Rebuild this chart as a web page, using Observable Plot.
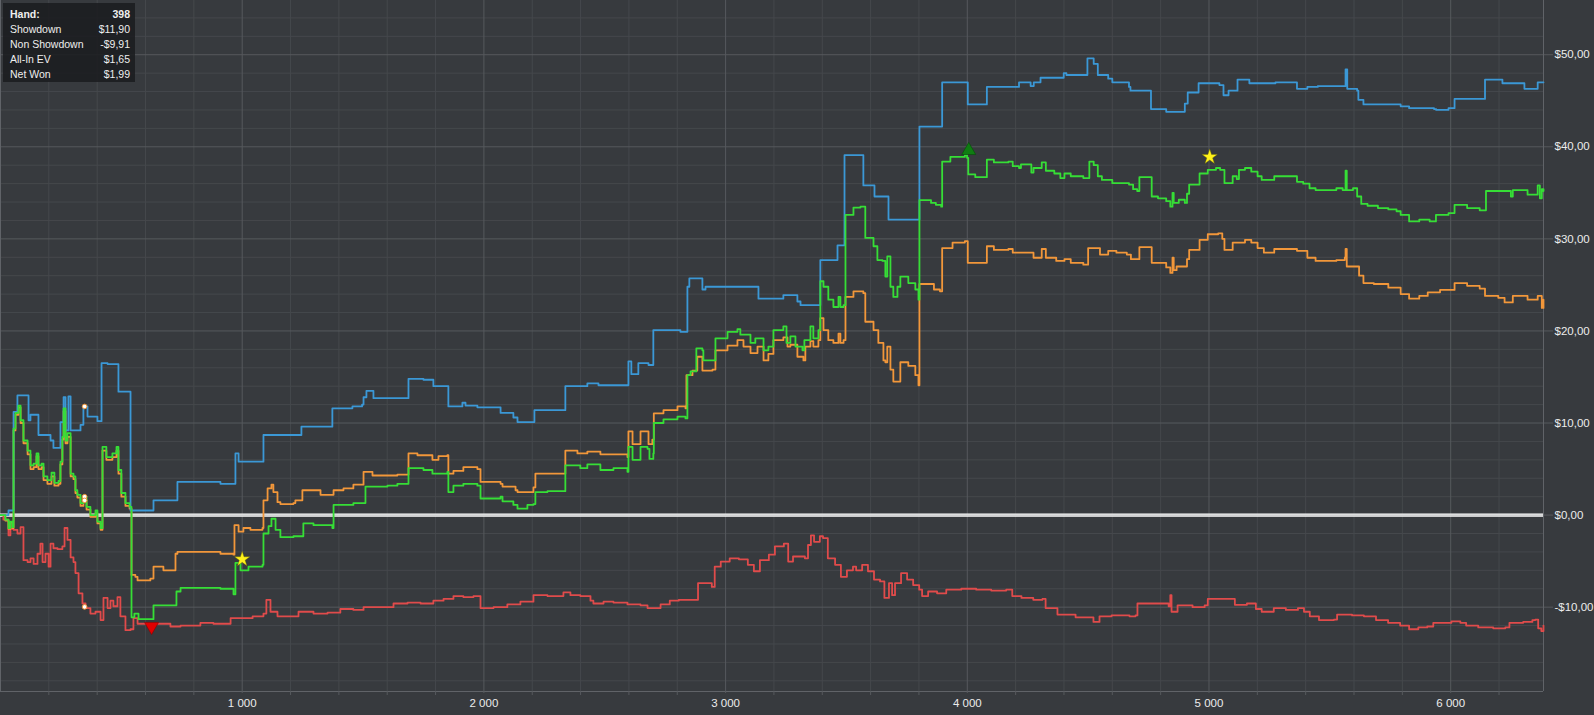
<!DOCTYPE html>
<html><head><meta charset="utf-8">
<script src="https://cdn.jsdelivr.net/npm/d3@7"></script>
<script src="https://cdn.jsdelivr.net/npm/@observablehq/plot@0.6"></script>
<style>
html,body{margin:0;padding:0;background:#373a3e;overflow:hidden}
#wrap{position:relative;width:1594px;height:715px}
#legend{position:absolute;left:3px;top:3px;width:132px;height:79px;background:rgba(27,29,32,0.88);font:10.5px "Liberation Sans",sans-serif;color:#eeeeee;box-sizing:border-box;padding:4px 5px 0 7px}
#legend .row{display:flex;justify-content:space-between;height:15px;line-height:15px;white-space:nowrap}
#legend .head{font-weight:bold}
</style></head>
<body><div id="wrap"><div id="chart"></div><div id="legend"></div></div>
<script>
// ---- data: [hand, dollars] breakpoints ----
const showdown = [[0,0],[33,0.5],[54,11.2],[70,13.0],[116,10.3],[124,10.9],[157,8.7],[207,8.1],[219,7.3],[248,10.1],[261,12.8],[269,9.2],[281,12.9],[290,9.2],[331,9.8],[343,11.8],[360,10.7],[401,10.2],[418,16.5],[443,16.4],[488,13.4],[538,0.5],[633,1.6],[732,3.6],[910,3.4],[972,6.7],[985,5.8],[1088,8.7],[1245,9.6],[1373,11.6],[1456,11.8],[1496,12.0],[1502,12.8],[1514,13.5],[1543,12.7],[1688,14.8],[1750,14.7],[1791,14.0],[1853,11.8],[1911,12.2],[1924,11.9],[1973,11.7],[2069,11.1],[2122,10.6],[2139,10.1],[2209,11.4],[2337,14.0],[2428,14.3],[2474,14.1],[2598,16.7],[2610,15.3],[2639,16.5],[2681,16.3],[2701,20.1],[2813,19.9],[2842,24.8],[2850,25.7],[2904,24.5],[2917,24.8],[3136,23.5],[3239,23.9],[3297,23.2],[3310,22.8],[3392,27.7],[3463,29.3],[3492,39.1],[3570,35.8],[3616,34.6],[3674,32.1],[3802,42.2],[3896,47.0],[4002,44.6],[4081,46.5],[4214,47.0],[4262,46.6],[4275,47.0],[4303,47.5],[4399,48.0],[4410,47.8],[4497,49.6],[4523,49.0],[4540,47.8],[4583,47.4],[4600,47.0],[4669,46.5],[4675,46.1],[4760,44.1],[4823,43.8],[4900,44.7],[4912,45.9],[4957,46.9],[5043,46.7],[5060,45.6],[5081,46.1],[5118,47.3],[5167,46.9],[5275,47.0],[5364,46.3],[5407,46.5],[5450,46.6],[5565,48.4],[5572,46.3],[5613,46.1],[5618,45.1],[5639,44.6],[5793,44.4],[5828,44.2],[5931,44.1],[5940,44.0],[5991,44.2],[6016,45.2],[6142,47.3],[6214,46.9],[6305,46.3],[6360,47.0],[6384,47.0]];

const netWon = [[0,0],[20,-0.5],[33,-1.4],[41,-0.7],[50,-1.3],[54,9.4],[62,11.1],[74,11.9],[83,10.3],[95,8.1],[112,7.0],[124,5.4],[137,5.6],[149,6.7],[157,5.4],[170,5.6],[178,4.2],[194,3.8],[211,4.6],[223,3.5],[240,3.7],[248,5.8],[256,8.5],[261,11.6],[269,8.1],[277,8.9],[290,4.5],[302,4.2],[310,2.7],[318,2.2],[331,1.3],[343,2.0],[356,0.9],[372,0.0],[393,0.5],[401,-0.7],[414,-1.4],[422,7.4],[438,6.3],[463,6.7],[480,7.4],[488,4.9],[500,2.4],[517,1.3],[534,0.9],[542,-11.1],[554,-10.7],[571,-11.3],[633,-9.8],[728,-8.3],[745,-7.9],[910,-8.0],[964,-8.6],[972,-5.2],[993,-6.0],[1026,-5.6],[1084,-5.4],[1088,-2.0],[1109,-1.2],[1121,-0.4],[1138,-1.6],[1158,-2.4],[1212,-2.3],[1253,-0.9],[1295,-1.1],[1373,-1.4],[1378,1.1],[1460,1.3],[1510,3.1],[1601,3.2],[1642,3.4],[1688,5.1],[1750,4.9],[1787,4.5],[1849,4.7],[1853,2.5],[1874,3.2],[1915,3.4],[1973,3.2],[1986,1.8],[2069,2.0],[2077,1.5],[2122,1.1],[2139,0.7],[2180,1.1],[2205,1.2],[2213,2.5],[2263,2.6],[2329,2.6],[2337,5.4],[2399,5.1],[2428,5.5],[2482,4.9],[2536,5.1],[2594,4.7],[2598,7.4],[2615,6.0],[2639,6.0],[2648,7.4],[2677,7.2],[2685,6.1],[2701,6.7],[2703,10.0],[2743,10.4],[2801,10.7],[2834,10.5],[2842,15.2],[2855,15.6],[2879,18.1],[2904,17.9],[2908,16.8],[2950,16.8],[2958,19.2],[3008,19.9],[3049,20.2],[3061,19.6],[3103,18.7],[3123,19.2],[3157,17.9],[3177,18.3],[3198,20.1],[3239,20.5],[3252,18.7],[3268,19.4],[3289,18.3],[3318,17.9],[3326,19.0],[3351,20.5],[3363,19.2],[3384,20.1],[3392,25.4],[3405,24.8],[3425,23.4],[3446,22.6],[3467,23.7],[3475,22.6],[3488,22.8],[3496,32.6],[3529,33.4],[3558,33.5],[3570,33.5],[3578,30.1],[3612,29.2],[3628,27.7],[3649,27.6],[3661,25.9],[3669,28.1],[3682,24.8],[3694,23.7],[3711,24.8],[3723,25.9],[3756,25.2],[3785,24.5],[3798,23.4],[3802,34.2],[3850,33.9],[3870,33.7],[3892,33.5],[3896,38.4],[3930,38.9],[3990,39.1],[3999,38.8],[4004,37.0],[4033,36.7],[4081,38.6],[4110,38.3],[4170,38.4],[4188,37.9],[4214,37.7],[4222,38.1],[4265,37.2],[4274,37.7],[4308,38.3],[4325,37.4],[4360,37.1],[4385,36.6],[4402,37.1],[4428,36.8],[4480,36.6],[4505,38.4],[4523,38.0],[4540,36.8],[4557,36.4],[4600,36.05],[4669,35.9],[4686,35.4],[4703,35.2],[4712,36.7],[4763,34.6],[4789,34.4],[4823,34.1],[4840,33.5],[4849,35.0],[4854,33.9],[4875,34.25],[4900,33.9],[4909,34.9],[4918,35.9],[4961,37.1],[4995,37.5],[5029,37.7],[5046,37.5],[5064,36.05],[5098,36.8],[5115,36.5],[5124,37.5],[5149,37.7],[5175,37.3],[5201,36.8],[5218,36.4],[5270,36.8],[5364,36.2],[5390,36.0],[5416,35.5],[5441,35.3],[5527,35.5],[5553,35.3],[5565,37.4],[5570,35.3],[5596,35.5],[5613,34.6],[5630,33.8],[5656,33.6],[5699,33.35],[5742,33.2],[5776,33.0],[5793,32.6],[5828,31.9],[5870,32.1],[5913,31.9],[5939,32.6],[5991,32.8],[6016,33.7],[6068,33.35],[6120,33.1],[6146,35.2],[6249,34.6],[6257,35.3],[6318,34.8],[6360,35.8],[6369,34.4],[6377,35.4],[6384,35.2]];

const allInEV = [[0,0],[20,-0.6],[33,-1.5],[41,-0.8],[50,-1.4],[54,9.2],[62,10.9],[74,11.7],[83,10.0],[95,7.8],[112,6.6],[124,5.0],[137,5.2],[149,6.4],[157,5.0],[170,5.2],[178,3.8],[194,3.4],[211,4.2],[223,3.2],[240,3.4],[248,5.5],[256,8.2],[261,11.3],[269,7.8],[277,8.5],[290,4.2],[302,3.9],[310,2.4],[318,1.9],[331,1.0],[343,1.6],[356,0.6],[372,-0.2],[393,0.2],[401,-0.9],[414,-1.6],[422,7.0],[438,6.0],[463,6.3],[480,7.0],[488,4.5],[500,2.0],[517,1.0],[534,0.7],[542,-6.5],[558,-6.7],[567,-7.1],[620,-6.9],[633,-5.6],[674,-6.0],[724,-4.2],[732,-4.0],[910,-4.2],[964,-4.3],[968,-1.1],[985,-1.8],[1005,-1.4],[1034,-1.6],[1084,-1.4],[1088,1.6],[1105,2.9],[1121,3.3],[1129,2.5],[1146,1.4],[1158,1.2],[1212,1.3],[1220,1.6],[1249,2.7],[1282,2.7],[1324,2.2],[1378,2.7],[1419,2.9],[1460,3.3],[1502,4.7],[1539,4.3],[1642,4.4],[1688,6.7],[1725,6.5],[1758,6.5],[1787,6.0],[1812,6.4],[1849,6.5],[1853,4.5],[1874,4.8],[1915,5.2],[1973,5.0],[1986,3.6],[2069,3.4],[2077,3.1],[2131,2.7],[2139,2.5],[2205,3.0],[2213,4.5],[2329,4.5],[2337,7.0],[2387,6.7],[2428,6.9],[2482,6.6],[2536,6.6],[2594,6.3],[2598,9.1],[2615,7.7],[2639,7.7],[2648,9.1],[2677,9.1],[2681,7.7],[2697,8.2],[2703,11.05],[2743,11.4],[2801,11.8],[2834,11.6],[2838,15.2],[2863,15.7],[2883,17.2],[2904,15.7],[2946,15.8],[2958,17.9],[3008,18.4],[3049,19.0],[3074,18.3],[3103,17.6],[3132,18.3],[3157,16.8],[3177,17.5],[3198,19.0],[3239,19.3],[3256,18.3],[3268,18.5],[3297,17.2],[3322,16.8],[3330,18.3],[3351,18.9],[3363,18.3],[3384,19.0],[3392,21.4],[3405,20.1],[3425,19.0],[3446,18.7],[3467,19.7],[3475,18.7],[3488,19.0],[3496,23.7],[3529,24.3],[3570,24.1],[3578,21.0],[3612,20.1],[3632,18.7],[3653,16.8],[3661,16.6],[3669,18.3],[3682,15.8],[3694,14.5],[3723,16.6],[3756,16.2],[3785,15.2],[3798,14.1],[3802,25.1],[3862,24.5],[3887,24.3],[3896,29.0],[3939,29.6],[3990,29.75],[4002,27.4],[4081,29.2],[4110,28.8],[4170,28.9],[4188,28.5],[4240,28.5],[4274,27.95],[4308,28.9],[4325,27.95],[4368,27.6],[4402,27.8],[4428,27.4],[4480,27.2],[4500,29.0],[4549,28.3],[4583,28.7],[4617,28.5],[4660,28.3],[4677,27.8],[4712,29.1],[4763,27.4],[4823,26.9],[4840,26.3],[4849,27.95],[4854,26.6],[4866,27.0],[4909,27.8],[4918,28.8],[4961,29.9],[4995,30.5],[5038,30.6],[5055,30.0],[5064,28.8],[5098,29.6],[5149,29.9],[5175,29.6],[5201,29.0],[5227,28.5],[5270,28.9],[5364,28.7],[5407,27.95],[5441,27.6],[5527,27.7],[5562,28.0],[5565,28.9],[5570,27.0],[5621,26.0],[5639,25.2],[5682,25.1],[5742,24.7],[5793,24.0],[5828,23.5],[5870,23.8],[5905,24.2],[5956,24.45],[6016,25.2],[6068,24.9],[6120,24.6],[6142,23.8],[6197,23.6],[6223,23.1],[6257,23.8],[6318,23.4],[6360,23.8],[6377,22.5],[6384,23.4]];

const nonShowdown = [[0,0],[12,-0.5],[33,-2.2],[41,-1.5],[54,-1.6],[70,-2.0],[83,-1.3],[95,-4.9],[112,-5.1],[124,-4.7],[137,-5.3],[153,-4.2],[165,-3.1],[174,-5.1],[186,-4.2],[199,-5.6],[207,-3.1],[219,-3.6],[236,-3.7],[256,-3.4],[265,-1.4],[277,-2.7],[290,-4.6],[302,-5.1],[310,-6.3],[323,-8.5],[339,-9.6],[352,-10.1],[372,-10.7],[393,-10.5],[414,-11.4],[426,-9.0],[443,-10.1],[455,-9.3],[467,-9.9],[484,-8.9],[496,-11.0],[517,-12.5],[538,-12.4],[550,-11.2],[567,-11.8],[620,-11.8],[703,-12.1],[745,-12.0],[827,-11.7],[881,-11.8],[952,-11.2],[1043,-11.0],[1088,-10.7],[1100,-9.2],[1117,-10.5],[1146,-11.0],[1200,-11.0],[1233,-10.5],[1295,-10.7],[1353,-10.6],[1406,-10.2],[1460,-10.3],[1502,-10.0],[1572,-10.0],[1626,-9.6],[1684,-9.5],[1738,-9.6],[1791,-9.3],[1833,-9.1],[1874,-8.8],[1915,-8.9],[1957,-8.8],[1986,-10.1],[2040,-10.0],[2097,-9.7],[2151,-9.4],[2205,-8.7],[2263,-8.8],[2329,-8.4],[2358,-8.7],[2399,-8.8],[2441,-9.3],[2453,-9.6],[2495,-9.4],[2536,-9.5],[2594,-9.7],[2648,-9.8],[2677,-10.1],[2719,-10.1],[2731,-9.7],[2769,-9.3],[2806,-9.2],[2886,-7.4],[2943,-7.8],[2955,-5.6],[2980,-5.05],[3017,-4.7],[3055,-4.8],[3092,-5.4],[3117,-6.1],[3142,-4.9],[3179,-4.3],[3204,-3.4],[3241,-3.1],[3259,-5.05],[3279,-4.5],[3328,-4.7],[3341,-3.25],[3353,-2.2],[3366,-2.9],[3390,-2.3],[3403,-2.5],[3423,-4.7],[3453,-5.4],[3477,-6.7],[3502,-6.0],[3527,-5.6],[3540,-6.0],[3565,-5.4],[3589,-6.1],[3614,-7.0],[3639,-7.2],[3657,-9.0],[3676,-7.4],[3689,-8.7],[3701,-7.4],[3726,-6.3],[3751,-7.0],[3776,-7.6],[3801,-8.1],[3813,-8.8],[3838,-8.3],[3875,-8.5],[3913,-8.1],[3975,-8.0],[4037,-8.1],[4099,-8.2],[4161,-8.1],[4186,-8.8],[4224,-9.0],[4273,-9.2],[4311,-9.1],[4324,-10.1],[4373,-10.8],[4448,-11.1],[4522,-11.6],[4547,-11.0],[4597,-10.9],[4671,-11.0],[4696,-10.9],[4704,-9.6],[4771,-9.6],[4833,-9.9],[4840,-8.7],[4845,-10.5],[4870,-9.8],[4932,-10.0],[4982,-9.8],[4995,-9.1],[5044,-9.1],[5107,-9.75],[5157,-9.6],[5194,-10.2],[5218,-10.5],[5268,-10.1],[5318,-10.3],[5368,-10.1],[5393,-10.5],[5417,-11.0],[5455,-11.4],[5517,-11.35],[5530,-10.8],[5592,-10.9],[5641,-11.0],[5691,-11.4],[5741,-11.7],[5791,-12.0],[5828,-12.4],[5866,-12.2],[5903,-12.1],[5928,-11.7],[5965,-11.7],[6003,-11.55],[6040,-11.7],[6064,-12.0],[6114,-12.2],[6176,-12.3],[6226,-12.2],[6243,-11.7],[6300,-11.6],[6338,-11.4],[6350,-11.35],[6362,-12.3],[6375,-12.6],[6384,-12.0]];

// markers
const starHands = [1000, 5003];
const starValues = [-4.8, 38.9];
const lowHand = 625, lowValue = -12.1;      // red down triangle
const highHand = 4006, highValue = 39.6;    // green up triangle
const hoverHand = 348;
const hoverValues = [11.8, 2.0, 1.6, -9.97];

// axis ticks
const handMajor = [1000, 2000, 3000, 4000, 5000, 6000];
const handMinor = d3.range(200, 6384, 200).filter(d => d % 1000 !== 0);
const valueMajor = [-10, 0, 10, 20, 30, 40, 50];
const valueMinor = d3.range(-18, 56, 2).filter(d => d % 10 !== 0);

// legend
const legendTitle = ["Hand:", "398"];
const legendRows = [["Showdown", "$11,90"], ["Non Showdown", "-$9,91"], ["All-In EV", "$1,65"], ["Net Won", "$1,99"]];

// ---- build ----
const series = [
  {name: "Non Showdown", data: nonShowdown},
  {name: "All-In EV", data: allInEV},
  {name: "Showdown", data: showdown},
  {name: "Net Won", data: netWon}
];
const colors = {"Showdown": "#3b98d6", "Non Showdown": "#e04b4b", "All-In EV": "#f2973a", "Net Won": "#36de36"};
const rows = series.flatMap(s => s.data.map(([hand, value]) => ({hand, value, name: s.name})));

const money = v => (v < 0 ? "-" : "") + "$" + Math.abs(v).toFixed(2).replace(".", ",");
const handFmt = v => d3.format(",")(v).replace(/,/g, " ");

const gridMinor = "#45484c", gridMajor = "#56595d", border = "#606368";

const chart = Plot.plot({
  width: 1594, height: 715,
  marginLeft: 0, marginRight: 51, marginTop: 0, marginBottom: 24,
  style: {background: "#373a3e", color: "#e8e8e8", fontFamily: "'Liberation Sans', sans-serif", fontSize: "11.5px"},
  x: {domain: [0, 6384], label: null},
  y: {domain: [-19.16, 55.89], label: null},
  marks: [
    Plot.gridX(handMinor, {stroke: gridMinor, strokeOpacity: 1}),
    Plot.gridY(valueMinor, {stroke: gridMinor, strokeOpacity: 1}),
    Plot.gridX(handMajor, {stroke: gridMajor, strokeOpacity: 1}),
    Plot.gridY(valueMajor, {stroke: gridMajor, strokeOpacity: 1}),
    Plot.ruleX([0, 6384], {stroke: border}),
    Plot.ruleY([-19.16], {stroke: border}),
    Plot.axisY(valueMajor, {anchor: "right", tickSize: 9, tickPadding: 2, tickFormat: money, stroke: gridMajor, fill: "#ececec", label: null}),
    Plot.axisX(handMinor, {tickSize: 4, tickFormat: () => "", stroke: gridMajor, label: null}),
    Plot.axisX(handMajor, {tickSize: 2, tickPadding: 5, tickFormat: handFmt, stroke: gridMajor, fill: "#ececec", label: null}),
    Plot.ruleY([0], {stroke: "#ffffff", strokeWidth: 3.2}),
    Plot.ruleY([0], {stroke: "#8c8f92", strokeWidth: 0.7}),
    Plot.line(rows, {x: "hand", y: "value", z: "name", stroke: d => colors[d.name], strokeWidth: 1.8, curve: "step-after"}),
    Plot.dot(hoverValues, {x: () => hoverHand, y: d => d, r: 2.3, fill: "#ffffff", stroke: "#f2973a", strokeWidth: 1}),
    Plot.dot([0], {x: () => lowHand, y: () => lowValue, symbol: "triangle", r: 5.2, rotate: 180, fill: "#e00000", stroke: "#8a0000", strokeWidth: 0.6}),
    Plot.dot([0], {x: () => highHand, y: () => highValue, symbol: "triangle", r: 5.2, fill: "#0f7d12", stroke: "#054d07", strokeWidth: 0.6}),
    Plot.dot(starHands, {x: d => d, y: (d, i) => starValues[i], symbol: "star", r: 4.8, fill: "#fff21a", stroke: "#6d6a00", strokeWidth: 0.4})
  ]
});
document.getElementById("chart").appendChild(chart);

const lg = document.getElementById("legend");
const mk = (cells, cls) => {
  const r = document.createElement("div");
  r.className = "row" + (cls ? " " + cls : "");
  cells.forEach(t => { const s = document.createElement("span"); s.textContent = t; r.appendChild(s); });
  lg.appendChild(r);
};
mk(legendTitle, "head");
legendRows.forEach(r => mk(r));
</script></body></html>
